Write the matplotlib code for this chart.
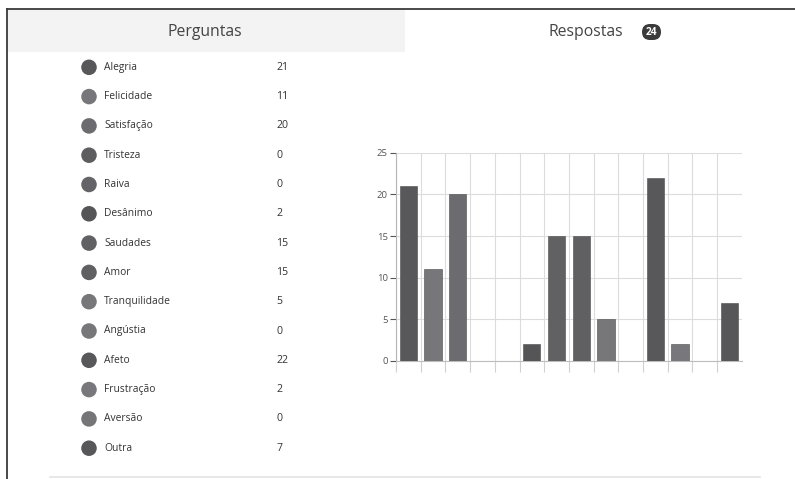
import matplotlib
matplotlib.use("Agg")
import matplotlib.pyplot as plt
from matplotlib.patches import Rectangle, FancyBboxPatch

plt.rcParams["font.family"] = ["Open Sans", "DejaVu Sans"]

# data
categories = ["Alegria", "Felicidade", "Satisfação", "Tristeza", "Raiva",
              "Desânimo", "Saudades", "Amor", "Tranquilidade", "Angústia",
              "Afeto", "Frustração", "Aversão", "Outra"]
counts = [21, 11, 20, 0, 0, 2, 15, 15, 5, 0, 22, 2, 0, 7]
total_responses = 24
y_ticks = [0, 5, 10, 15, 20, 25]

# grey shades used per option (screenshot is greyscale)
shades = ["#58585b", "#77777b", "#6c6c70", "#5d5d60", "#646468",
          "#555558", "#616164", "#606063", "#77777a", "#77777a",
          "#58585b", "#78787c", "#757578", "#57575a"]

W, H = 795, 479
fig = plt.figure(figsize=(W / 100, H / 100), dpi=100)

# page layer in pixel coordinates
bg = fig.add_axes([0, 0, 1, 1])
bg.set_xlim(0, W)
bg.set_ylim(H, 0)
bg.axis("off")

bg.add_patch(Rectangle((7, 9), 398, 43, facecolor="#f3f3f3", edgecolor="none"))
bg.plot([6.5, W], [8.5, 8.5], color="#3a3a3a", lw=1.3)
bg.plot([6.5, 6.5], [8.5, H], color="#3a3a3a", lw=1.3)
bg.plot([50, 760], [477, 477], color="#e3e3e3", lw=1.2)

bg.text(205, 31.5, "Perguntas", ha="center", va="center", fontsize=11.3, color="#444444")
bg.text(586, 31.5, "Respostas", ha="center", va="center", fontsize=11.3, color="#444444")
bg.add_patch(FancyBboxPatch((642, 24), 19, 16, boxstyle="round,pad=0,rounding_size=8",
                            facecolor="#3b3b3b", edgecolor="none"))
bg.text(651.5, 32.3, str(total_responses), ha="center", va="center", fontsize=7.3,
        color="white", fontweight="bold")

row0, step = 67.3, 29.3
for i, (name, val) in enumerate(zip(categories, counts)):
    y = row0 + i * step
    bg.scatter([89], [y], s=125, color=shades[i], edgecolors="none")
    bg.text(104, y, name, ha="left", va="center", fontsize=7.4, color="#333333")
    bg.text(276.5, y, str(val), ha="left", va="center", fontsize=7.6, color="#333333")

# bar chart
x0, x1 = 396, 741.8
y0, y1 = 361, 152.7
ax = fig.add_axes([x0 / W, (H - y0) / H, (x1 - x0) / W, (y0 - y1) / H])
n = len(categories)
ax.bar(range(n), counts, width=0.7, color=shades, edgecolor="#4a4a4a", linewidth=0.4, zorder=3)
ax.set_xlim(-0.5, n - 0.5)
ax.set_ylim(0, 25)
ax.set_yticks(y_ticks)
ax.set_xticks([i - 0.5 for i in range(n)])
ax.set_xticklabels([])
ax.tick_params(axis="y", labelsize=6.8, colors="#555555", length=4, width=0.8, pad=2)
ax.tick_params(axis="x", length=8, width=0.8, colors="#d0d0d0")
ax.grid(True, color="#dcdcdc", lw=0.8, zorder=0)
for side in ["top", "right"]:
    ax.spines[side].set_visible(False)
ax.spines["left"].set_color("#b5b5b5")
ax.spines["bottom"].set_color("#bdbdbd")
ax.spines["left"].set_bounds(0, 25)

fig.savefig("out.png", dpi=100)
